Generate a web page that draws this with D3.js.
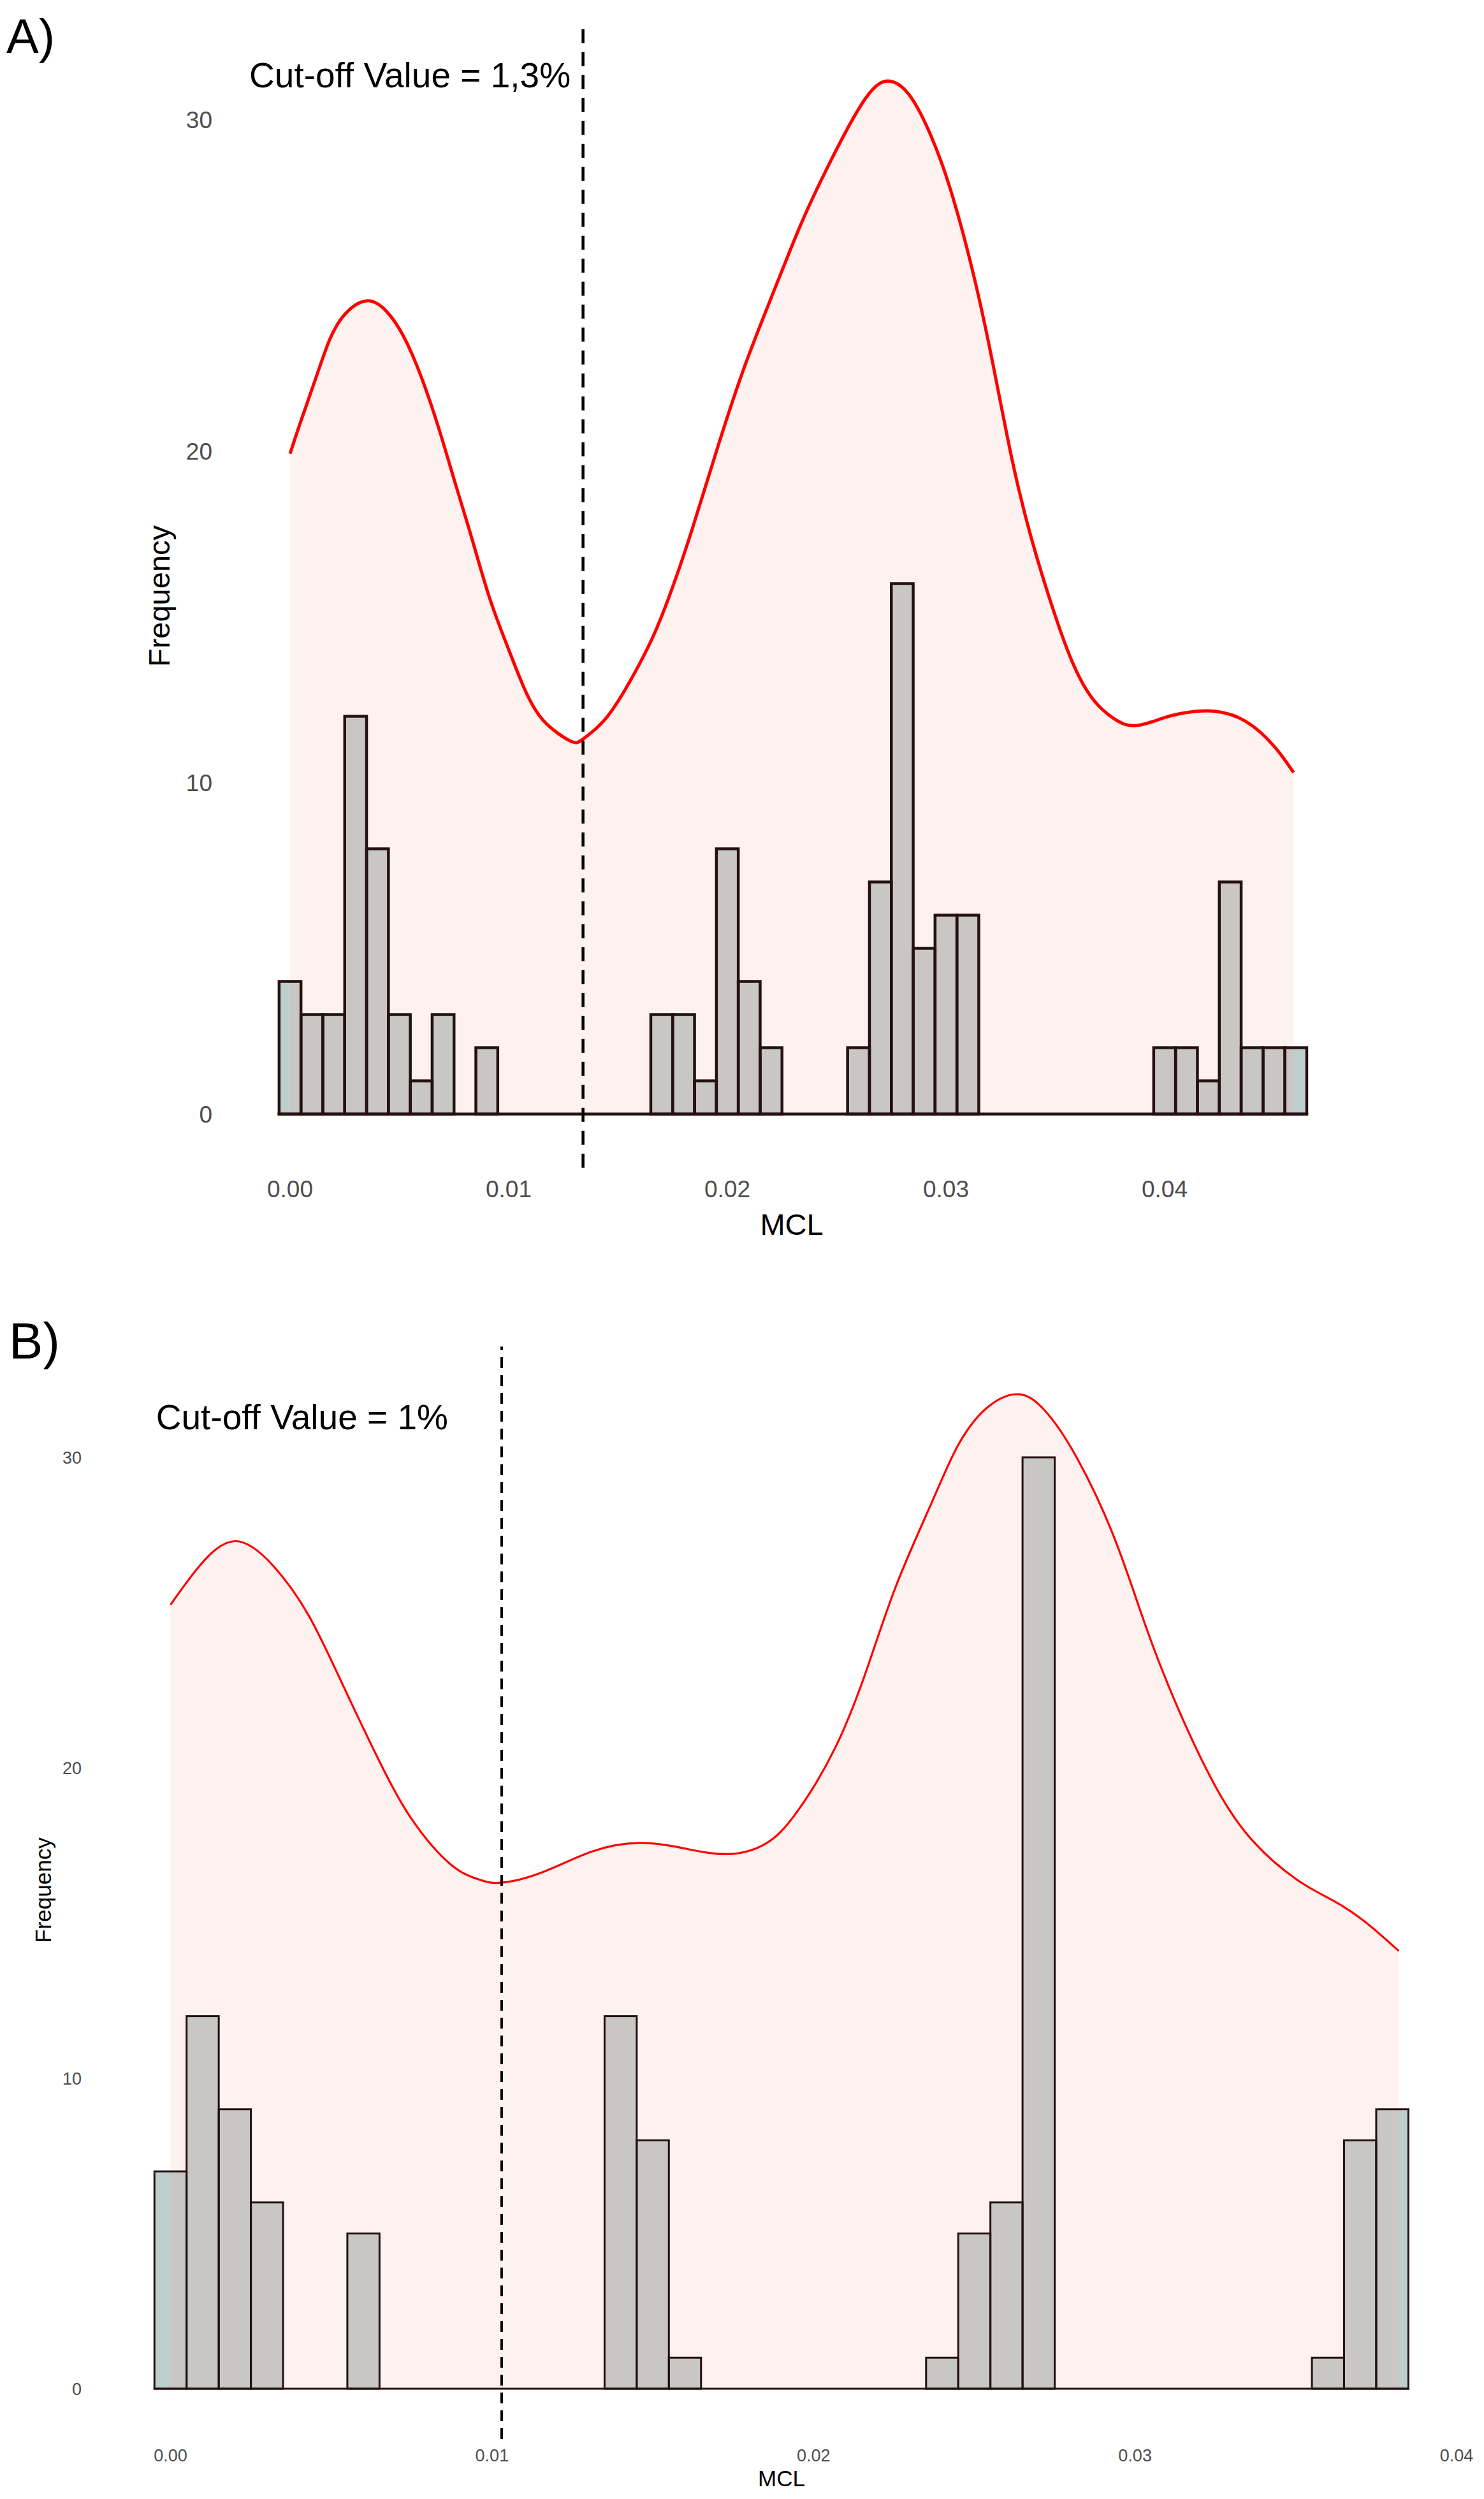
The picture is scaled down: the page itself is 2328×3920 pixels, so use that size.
<!DOCTYPE html>
<html>
<head>
<meta charset="utf-8">
<script src="https://cdn.jsdelivr.net/npm/d3@7"></script>
<style>
  html, body { margin: 0; padding: 0; background: #ffffff; }
  svg { display: block; font-family: "Liberation Sans", Arial, sans-serif; }
</style>
</head>
<body>
<svg id="chart" width="2328" height="3920"></svg>
<script>
// ---------------- DATA ----------------
const binWidth = 0.001;

// Panel A histogram counts, bins centred at 0.000, 0.001, ... 0.046
const countsA = [4,3,3,12,8,3,1,3,0,2, 0,0,0,0,0,0,0,3,3,1, 8,4,2,0,0,0,2,7,16,5, 6,6,0,0,0,0,0,0,0,0, 2,2,1,7,2,2,2];
// Panel B histogram counts, bins centred at 0.000, 0.001, ... 0.038
const countsB = [7,12,9,6,0,0,5,0,0,0, 0,0,0,0,12,8,1,0,0,0, 0,0,0,0,1,5,6,30,0,0, 0,0,0,0,0,0,1,8,9];

// Density curves (scaled to count axis)
const densXA = [0.0000,0.0005,0.0012,0.0018,0.0025,0.0035,0.0044,0.0052,0.0060,0.0068,0.0076,0.0083,0.0091,0.0099,0.0107,0.0116,0.0128,0.0134,0.0144,0.0155,0.0166,0.0175,0.0184,0.0196,0.0208,0.0221,0.0233,0.0245,0.0263,0.0275,0.0284,0.0293,0.0302,0.0312,0.0321,0.0330,0.0339,0.0349,0.0358,0.0367,0.0377,0.0387,0.0400,0.0411,0.0423,0.0437,0.0450,0.0459];
const densYA = [19.92,20.91,22.24,23.34,24.12,24.53,24.22,23.45,22.24,20.69,18.93,17.4,15.62,14.18,12.86,11.86,11.26,11.31,11.9,13.0,14.4,15.9,17.66,20.2,22.57,24.78,26.74,28.45,30.62,31.15,30.67,29.53,27.9,25.48,22.78,19.81,17.38,15.22,13.6,12.53,11.92,11.72,11.96,12.12,12.15,11.85,11.1,10.3];

const densXB = [0.0000,0.0009,0.0020,0.0032,0.0043,0.0053,0.0065,0.0075,0.0087,0.0096,0.0103,0.0116,0.0131,0.0146,0.0160,0.0173,0.0185,0.0195,0.0207,0.0217,0.0226,0.0237,0.0245,0.0254,0.0264,0.0272,0.0281,0.0293,0.0303,0.0313,0.0325,0.0337,0.0351,0.0362,0.0372,0.0382];
const densYB = [25.25,26.5,27.3,26.5,24.9,22.8,20.2,18.35,16.9,16.4,16.3,16.65,17.3,17.58,17.4,17.22,17.55,18.6,20.7,23.3,25.95,28.6,30.4,31.6,32.03,31.5,30.15,27.55,24.65,22.0,19.4,17.6,16.35,15.7,15.0,14.1];

// Tick values / labels
const xTicks = [0, 0.01, 0.02, 0.03, 0.04];
const yTicks = [0, 10, 20, 30];

// Cut-off values and annotation texts
const cutoffA = 0.0134;
const cutoffB = 0.0103;
const panelYLimA = [-1.62, 32.74];
const panelYLimB = [-1.62, 33.57];
const labelA = "Cut-off Value = 1,3%";
const labelB = "Cut-off Value = 1%";
const annotA = { x: 0.01283, y: 30.97, anchor: "end" };
const annotB = { x: -0.00045, y: 30.9, anchor: "start" };
const panelTitles = ["A)", "B)"];
const xTitle = "MCL";
const yTitle = "Frequency";

// ---------------- DRAW ----------------
const svg = d3.select("#chart");
const fmt = d3.format(".2f");

const colors = {
  pink: "#fdf2ef",
  red: "#ff0000",
  barGrey: "#c9c7c4",
  barBlue: "#bccfce",
  barStroke: "#241010",
  tick: "#4d4d4d",
  text: "#000000"
};

function drawPanel(cfg, idx) {
  const g = svg.append("g");
  const x = d3.scaleLinear().domain([0, 0.04]).range(cfg.xRange);
  const y = d3.scaleLinear().domain([0, 30]).range(cfg.yRange);

  const dens = cfg.densX.map((d, i) => ({ x: d, y: cfg.densY[i] }));
  const densMax = d3.max(cfg.densX);
  const curve = d3.curveNatural;

  // density area
  g.append("path")
    .datum(dens)
    .attr("fill", colors.pink)
    .attr("d", d3.area().x(d => x(d.x)).y0(y(0)).y1(d => y(d.y)).curve(curve));

  // histogram bins
  const bins = cfg.counts.map((c, i) => ({ c: i * binWidth, n: c }));
  const clipId = "clip" + idx;
  g.append("clipPath").attr("id", clipId)
    .append("rect")
    .attr("x", x(0)).attr("y", 0)
    .attr("width", x(densMax) - x(0)).attr("height", 3920);

  const barAttrs = sel => sel
    .attr("x", d => x(d.c - binWidth / 2))
    .attr("width", d => x(d.c + binWidth / 2) - x(d.c - binWidth / 2))
    .attr("y", d => y(d.n))
    .attr("height", d => y(0) - y(d.n));

  const nz = bins.filter(d => d.n > 0);
  g.append("g").selectAll("rect").data(nz).join("rect")
    .call(barAttrs).attr("fill", colors.barBlue);
  g.append("g").attr("clip-path", `url(#${clipId})`)
    .selectAll("rect").data(nz).join("rect")
    .call(barAttrs).attr("fill", colors.barGrey);
  g.append("g").selectAll("rect").data(nz).join("rect")
    .call(barAttrs).attr("fill", "none")
    .attr("stroke", colors.barStroke).attr("stroke-width", cfg.barStroke);
  // baseline from empty bins
  g.append("line")
    .attr("x1", x(bins[0].c - binWidth / 2)).attr("x2", x(bins[bins.length - 1].c + binWidth / 2))
    .attr("y1", y(0)).attr("y2", y(0))
    .attr("stroke", colors.barStroke).attr("stroke-width", cfg.barStroke)
    .attr("stroke-linecap", "square");

  // density line
  g.append("path")
    .datum(dens)
    .attr("fill", "none")
    .attr("stroke", colors.red)
    .attr("stroke-width", cfg.lineWidth)
    .attr("d", d3.line().x(d => x(d.x)).y(d => y(d.y)).curve(curve));

  // cut-off dashed line
  g.append("line")
    .attr("x1", x(cfg.cutoff)).attr("x2", x(cfg.cutoff))
    .attr("y1", y(cfg.vlim[0])).attr("y2", y(cfg.vlim[1]))
    .attr("stroke", "#000").attr("stroke-width", cfg.dashWidth)
    .attr("stroke-dasharray", cfg.dash);

  // annotation
  g.append("text")
    .attr("x", x(cfg.annot.x)).attr("y", y(cfg.annot.y))
    .attr("text-anchor", cfg.annot.anchor)
    .attr("font-size", 55).attr("fill", colors.text)
    .text(cfg.label);

  // y tick labels
  g.append("g").selectAll("text").data(yTicks).join("text")
    .attr("x", cfg.yTickX).attr("y", d => y(d) + cfg.tickFont * 0.36)
    .attr("text-anchor", "end")
    .attr("font-size", cfg.tickFont).attr("fill", colors.tick)
    .text(d => d);

  // x tick labels
  g.append("g").selectAll("text").data(xTicks).join("text")
    .attr("x", d => x(d)).attr("y", cfg.xTickY)
    .attr("text-anchor", "middle")
    .attr("font-size", cfg.tickFont).attr("fill", colors.tick)
    .text(d => fmt(d));

  // axis titles
  g.append("text")
    .attr("x", cfg.xTitlePos[0]).attr("y", cfg.xTitlePos[1])
    .attr("text-anchor", "middle")
    .attr("font-size", cfg.titleFont).attr("fill", colors.text)
    .text(xTitle);
  g.append("text")
    .attr("transform", `translate(${cfg.yTitlePos[0]},${cfg.yTitlePos[1]}) rotate(-90)`)
    .attr("text-anchor", "middle")
    .attr("font-size", cfg.titleFont).attr("fill", colors.text)
    .text(yTitle);

  // panel tag
  g.append("text")
    .attr("x", cfg.tagPos[0]).attr("y", cfg.tagPos[1])
    .attr("font-size", cfg.tagFont).attr("fill", colors.text)
    .text(panelTitles[idx]);
}

drawPanel({
  xRange: [455, 1827], yRange: [1747.5, 187.5],
  counts: countsA, densX: densXA, densY: densYA,
  cutoff: cutoffA, vlim: panelYLimA, label: labelA, annot: annotA,
  barStroke: 4.5, lineWidth: 5, dashWidth: 4.5, dash: "22,14",
  tickFont: 37, yTickX: 333, xTickY: 1878,
  titleFont: 47, xTitlePos: [1242, 1937], yTitlePos: [266, 935],
  tagPos: [10, 83], tagFont: 76
}, 0);

drawPanel({
  xRange: [267.5, 2285], yRange: [3747, 2286],
  counts: countsB, densX: densXB, densY: densYB,
  cutoff: cutoffB, vlim: panelYLimB, label: labelB, annot: annotB,
  barStroke: 3, lineWidth: 3.2, dashWidth: 4, dash: "17,11",
  tickFont: 27, yTickX: 128, xTickY: 3861,
  titleFont: 35, xTitlePos: [1226, 3900], yTitlePos: [80, 2965],
  tagPos: [14, 2131], tagFont: 80
}, 1);
</script>
</body>
</html>
